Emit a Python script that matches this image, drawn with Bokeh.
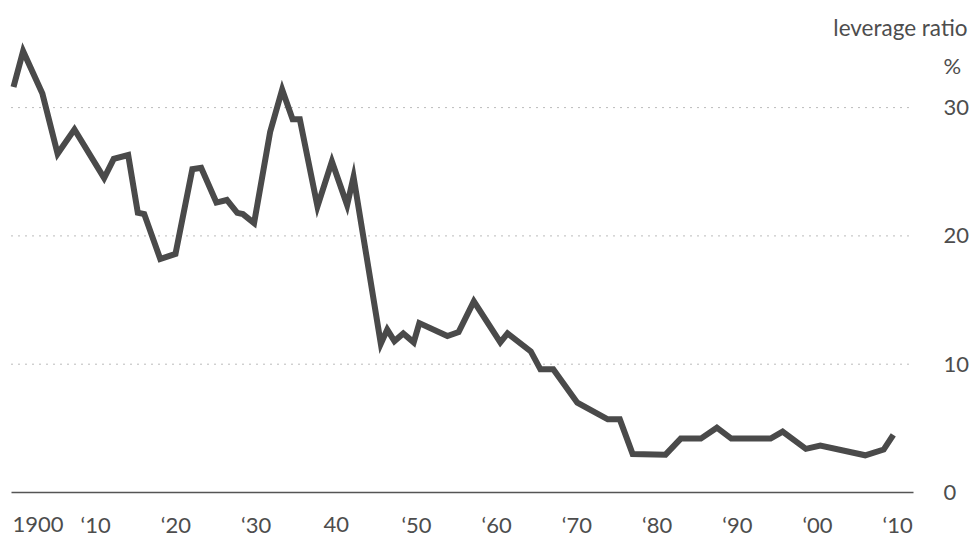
from bokeh.plotting import figure
from bokeh.models import Range1d, Label
from bokeh.core.properties import value
from bokeh.embed import file_html
from bokeh.resources import INLINE

years = [1900.0, 1901.2, 1903.6, 1905.5, 1907.6, 1911.3, 1912.5, 1914.3, 1915.5, 1916.3,
         1918.3, 1920.2, 1922.3, 1923.4, 1925.3, 1926.6, 1927.9, 1928.6, 1930.0, 1932.0,
         1933.5, 1934.8, 1935.7, 1937.9, 1939.7, 1941.6, 1942.4, 1945.8, 1946.6, 1947.5,
         1948.6, 1949.9, 1950.6, 1954.1, 1955.5, 1957.4, 1960.7, 1961.6, 1964.5, 1965.7,
         1967.3, 1970.3, 1974.1, 1975.6, 1977.2, 1981.3, 1983.2, 1985.7, 1987.7, 1989.5,
         1994.4, 1995.9, 1998.8, 2000.6, 2006.2, 2008.5, 2009.7]
leverage = [31.6, 34.4, 31.1, 26.4, 28.3, 24.5, 26.0, 26.3, 21.8, 21.7,
            18.2, 18.6, 25.2, 25.3, 22.6, 22.8, 21.8, 21.7, 21.0, 28.1,
            31.4, 29.1, 29.1, 22.3, 25.8, 22.4, 24.6, 11.6, 12.7, 11.8,
            12.4, 11.7, 13.2, 12.2, 12.5, 14.9, 11.7, 12.4, 11.0, 9.6,
            9.6, 7.0, 5.7, 5.7, 3.0, 2.95, 4.2, 4.2, 5.05, 4.2,
            4.2, 4.75, 3.4, 3.65, 2.9, 3.35, 4.5]

x_ticks = [1900, 1910, 1920, 1930, 1940, 1950, 1960, 1970, 1980, 1990, 2000, 2010]
x_tick_labels = ["1900", "\u201810", "\u201820", "\u201830", "40", "\u201850", "\u201860",
                 "\u201870", "\u201880", "\u201890", "\u201800", "\u201810"]
y_ticks = [0, 10, 20, 30]
y_tick_labels = ["0", "10", "20", "30"]
unit_label = "%"
title_label = "leverage ratio"

FONT = "Lato"
TXT = "#4d4d4d"
W, H = 973, 538

# scales (screen px per unit) and where the origin sits on the canvas
PX_PER_YEAR = 8.02
PX_PER_PCT = 12.83
ORIGIN_X_PX, ORIGIN_Y_PX = 13, 492      # 1900 / 0 %
X0 = 1900 - ORIGIN_X_PX / PX_PER_YEAR
X1 = X0 + W / PX_PER_YEAR
Y1 = ORIGIN_Y_PX / PX_PER_PCT
Y0 = Y1 - H / PX_PER_PCT

def xpx(px):
    return X0 + px / PX_PER_YEAR

def ypx(py):
    return Y1 - py / PX_PER_PCT

AX_START, AX_END = xpx(11), xpx(913)
LABEL_X = xpx(943)
XLAB_Y = ypx(524)

p = figure(width=W, height=H, output_backend="svg", toolbar_location=None,
           x_range=Range1d(X0, X1), y_range=Range1d(Y0, Y1),
           min_border=0, x_axis_location=None, y_axis_location=None,
           outline_line_color=None)
p.background_fill_color = "white"
p.border_fill_color = "white"
p.xgrid.grid_line_color = None
p.ygrid.grid_line_color = None

grid_ticks = [t for t in y_ticks if t != 0]
p.segment(x0=[AX_START] * len(grid_ticks), x1=[AX_END] * len(grid_ticks),
          y0=grid_ticks, y1=grid_ticks, line_color="#777777", line_dash="1 6", line_width=1)
# baseline (0 %)
p.segment(x0=[AX_START], x1=[AX_END], y0=[y_ticks[0]], y1=[y_ticks[0]],
          line_color="#555555", line_width=1.5)

p.line(years, leverage, line_color="#4a4a4a", line_width=6, line_join="miter")

# right-hand value labels
p.text(x=[LABEL_X] * len(y_ticks), y=y_ticks, text=y_tick_labels,
       text_font=value(FONT), text_font_size="22px", text_color=TXT,
       text_align="left", text_baseline="middle")

# bottom tick labels: first one left-aligned, others centred
p.text(x=x_ticks[:1], y=[XLAB_Y], text=x_tick_labels[:1],
       text_font=value(FONT), text_font_size="22px", text_color=TXT,
       text_align="left", text_baseline="middle", x_offset=-1)
p.text(x=x_ticks[1:], y=[XLAB_Y] * (len(x_ticks) - 1), text=x_tick_labels[1:],
       text_font=value(FONT), text_font_size="22px", text_color=TXT,
       text_align="center", text_baseline="middle", x_offset=2)

p.add_layout(Label(x=LABEL_X, y=ypx(65), text=unit_label, text_font=FONT, text_font_size="22px",
                   text_color=TXT, text_align="left", text_baseline="middle"))
p.add_layout(Label(x=xpx(967), y=ypx(27), text=title_label, text_font=FONT, text_font_size="22.5px",
                   text_color=TXT, text_align="right", text_baseline="middle"))

open("out.html", "w").write(file_html(p, INLINE))
